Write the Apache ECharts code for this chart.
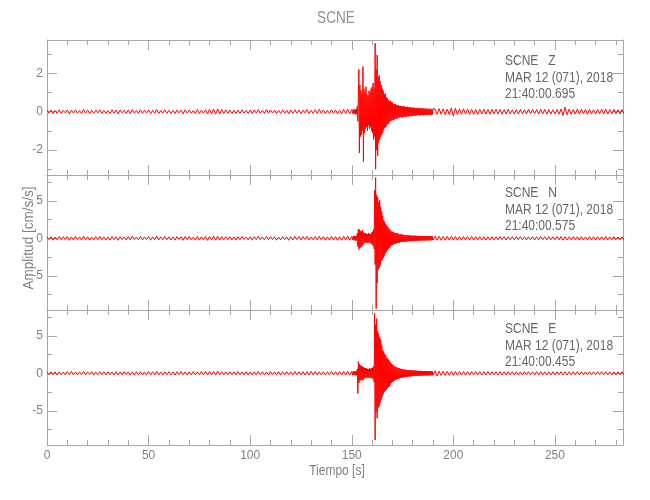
<!DOCTYPE html>
<html><head><meta charset="utf-8">
<script src="https://cdn.jsdelivr.net/npm/echarts@6/dist/echarts.min.js"></script>
<style>html,body{margin:0;padding:0;background:#fff}#c{width:650px;height:500px}</style>
</head><body><div id="c"></div>
<script>
// ---- texts ----
const stationTitle = 'SCNE';
const componentLabels = ['SCNE   Z', 'SCNE   N', 'SCNE   E'];
const dateLabel = 'MAR 12 (071), 2018';
const startTimes = ['21:40:00.695', '21:40:00.575', '21:40:00.455'];
const xAxisTitle = 'Tiempo [s]';
const yAxisTitle = 'Amplitud [cm/s/s]';

// ---- axes ----
const xMin = 0, xMax = 283.5;
const xMajorTicks = [0, 50, 100, 150, 200, 250];
const xMinorTicks = [10, 20, 30, 40, 60, 70, 80, 90, 110, 120, 130, 140, 160, 170, 180, 190, 210, 220, 230, 240, 260, 270, 280];
const yMins = [-3.3, -9.56, -9.56];
const yMaxs = [3.74, 8.44, 8.44];
const yMajorTicks = [[-2, 0, 2], [-5, 0, 5], [-5, 0, 5]];
const yMinorTicks = [[-3, -1, 1, 3], [-7.5, -2.5, 2.5, 7.5], [-7.5, -2.5, 2.5, 7.5]];

// ---- sampling of the traces (s) ----
const quietStart = 0, quietStep = 1;      // 0 .. 150
const eventStart = 150.25, eventStep = 0.25; // 150.25 .. 190
const codaStart = 191, codaStep = 1;      // 191 .. 284

// ---- Z component (cm/s/s) ----
const zQuiet = [
0.08,-0.07,0.09,-0.1,0.06,-0.08,0.1,-0.09,0.07,-0.06,
0.09,-0.11,0.08,-0.07,0.1,-0.08,0.06,-0.09,0.11,-0.07,
0.08,-0.1,0.07,-0.08,0.09,-0.06,0.1,-0.09,0.07,-0.08,
0.06,-0.09,0.1,-0.07,0.08,-0.11,0.09,-0.06,0.07,-0.1,
0.08,-0.09,0.11,-0.07,0.06,-0.08,0.1,-0.09,0.08,-0.07,
0.09,-0.1,0.07,-0.08,0.12,-0.09,0.06,-0.07,0.1,-0.08,
0.08,-0.09,0.07,-0.1,0.09,-0.06,0.08,-0.11,0.1,-0.07,
0.09,-0.08,0.06,-0.09,0.11,-0.1,0.08,-0.07,0.1,-0.12,
0.12,-0.1,0.14,-0.13,0.15,-0.12,0.11,-0.09,0.1,-0.08,
0.08,-0.09,0.07,-0.1,0.09,-0.08,0.1,-0.07,0.06,-0.09,
0.08,-0.1,0.09,-0.07,0.11,-0.08,0.07,-0.09,0.1,-0.08,
0.09,-0.07,0.08,-0.1,0.06,-0.09,0.1,-0.08,0.07,-0.11,
0.08,-0.09,0.1,-0.07,0.09,-0.1,0.08,-0.06,0.11,-0.09,
0.07,-0.08,0.1,-0.09,0.12,-0.08,0.09,-0.1,0.07,-0.09,
0.1,-0.08,0.09,-0.11,0.08,-0.1,0.12,-0.09,0.13,-0.1,0.11];
const zEvent = [
0.1,-0.09,0.11,-0.1,0.12,-0.11,0.1,-0.13,0.15,-0.14,
0.3,-0.5,0.8,2.2,-2.15,1.4,-1.3,1.1,-1.2,0.9,
-1.0,2.35,-2.6,1.2,-1.1,1.0,-0.9,1.3,-0.8,0.9,
-1.0,0.8,-0.7,1.1,-0.9,1.0,-0.8,1.2,-1.0,1.3,
-1.1,1.5,-1.45,1.2,-1.3,3.57,-3.0,2.2,-2.0,2.96,
-2.3,1.8,-1.6,1.9,-1.45,1.6,-1.3,1.4,-1.2,1.2,
-1.1,1.1,-0.95,0.9,-0.85,0.95,-0.8,0.75,-0.7,0.7,
-0.65,0.6,-0.62,0.55,-0.5,0.58,-0.5,0.5,-0.45,0.48,
-0.42,0.4,-0.44,0.38,-0.36,0.4,-0.35,0.34,-0.38,0.32,
-0.3,0.35,-0.32,0.3,-0.28,0.3,-0.27,0.29,-0.3,0.26,
-0.28,0.3,-0.25,0.27,-0.26,0.24,-0.27,0.25,-0.23,0.26,
-0.24,0.22,-0.25,0.23,-0.21,0.24,-0.22,0.2,-0.23,0.21,
-0.2,0.22,-0.19,0.2,-0.21,0.18,-0.2,0.19,-0.18,0.2,
-0.17,0.18,-0.19,0.17,-0.18,0.19,-0.16,0.18,-0.17,0.16,
-0.18,0.17,-0.15,0.16,-0.17,0.15,-0.16,0.17,-0.15,0.14,
-0.16,0.15,-0.14,0.16,-0.15,0.14,-0.15,0.13,-0.14,0.15];
const zCoda = [
0.15,-0.14,0.16,-0.13,0.15,-0.16,0.14,-0.15,0.2,-0.22,
0.18,-0.15,0.14,-0.13,0.15,-0.12,0.13,-0.14,0.12,-0.13,
0.11,-0.13,0.12,-0.11,0.13,-0.12,0.11,-0.13,0.12,-0.1,
0.13,-0.11,0.12,-0.13,0.11,-0.12,0.13,-0.11,0.1,-0.12,
0.11,-0.13,0.12,-0.11,0.1,-0.12,0.13,-0.11,0.12,-0.1,
0.11,-0.12,0.13,-0.11,0.12,-0.13,0.11,-0.12,0.1,-0.11,
0.12,-0.13,0.14,-0.2,0.24,-0.16,0.13,-0.12,0.11,-0.12,
0.13,-0.11,0.12,-0.1,0.11,-0.13,0.12,-0.11,0.1,-0.12,
0.11,-0.1,0.12,-0.11,0.13,-0.12,0.11,-0.1,0.12,-0.11,
0.1,-0.12,0.11,-0.1];

// ---- N component ----
const nQuiet = [
0.2,-0.18,0.22,-0.25,0.17,-0.2,0.24,-0.19,0.21,-0.16,
0.23,-0.26,0.18,-0.2,0.25,-0.17,0.19,-0.22,0.27,-0.18,
0.2,-0.24,0.16,-0.21,0.23,-0.19,0.25,-0.2,0.18,-0.22,
0.17,-0.23,0.26,-0.18,0.2,-0.27,0.22,-0.16,0.19,-0.24,
0.21,-0.2,0.28,-0.17,0.16,-0.21,0.24,-0.22,0.19,-0.18,
0.22,-0.25,0.18,-0.2,0.3,-0.22,0.17,-0.19,0.25,-0.2,
0.2,-0.23,0.18,-0.25,0.22,-0.16,0.21,-0.27,0.24,-0.18,
0.23,-0.2,0.16,-0.22,0.26,-0.24,0.19,-0.18,0.25,-0.28,
0.24,-0.21,0.27,-0.25,0.29,-0.23,0.22,-0.2,0.21,-0.19,
0.2,-0.22,0.18,-0.24,0.23,-0.19,0.25,-0.17,0.16,-0.22,
0.2,-0.25,0.22,-0.18,0.27,-0.2,0.17,-0.23,0.24,-0.2,
0.22,-0.18,0.2,-0.25,0.16,-0.22,0.24,-0.2,0.18,-0.27,
0.2,-0.22,0.25,-0.18,0.23,-0.24,0.2,-0.16,0.26,-0.22,
0.18,-0.2,0.24,-0.22,0.28,-0.19,0.23,-0.25,0.18,-0.22,
0.25,-0.2,0.22,-0.27,0.2,-0.24,0.29,-0.22,0.3,-0.25,0.26];
const nEvent = [
0.25,-0.22,0.28,-0.26,0.3,-0.27,0.26,-0.3,0.32,-0.3,
0.7,-1.1,1.25,-1.5,1.15,-1.3,1.0,-1.2,0.9,-1.05,
1.1,-0.9,0.8,-0.7,0.65,-0.6,0.7,-0.55,0.6,-0.65,
0.55,-0.6,0.7,-0.5,0.6,-0.65,0.55,-0.7,0.75,-0.8,
0.9,-1.0,1.2,-1.4,6.4,-3.5,8.1,-9.4,5.8,-6.0,
5.5,-4.2,4.8,-3.9,5.1,-3.6,4.2,-3.0,3.6,-2.9,
3.0,-2.6,2.4,-2.4,2.2,-2.0,1.9,-1.8,1.7,-1.6,
1.5,-1.4,1.3,-1.3,1.2,-1.1,1.0,-0.95,0.9,-0.9,
0.85,-0.8,0.8,-0.75,0.7,-0.72,0.68,-0.65,0.7,-0.6,
0.62,-0.58,0.55,-0.56,0.52,-0.5,0.55,-0.48,0.5,-0.46,
0.48,-0.45,0.44,-0.46,0.42,-0.44,0.4,-0.42,0.43,-0.4,
0.41,-0.38,0.4,-0.37,0.38,-0.36,0.37,-0.38,0.35,-0.36,
0.34,-0.35,0.36,-0.33,0.34,-0.32,0.33,-0.34,0.31,-0.32,
0.33,-0.3,0.32,-0.31,0.3,-0.32,0.29,-0.3,0.31,-0.28,
0.3,-0.29,0.28,-0.3,0.27,-0.28,0.29,-0.27,0.28,-0.26,
0.27,-0.28,0.26,-0.27,0.25,-0.26,0.27,-0.25,0.26,-0.24];
const nCoda = [
0.27,-0.25,0.26,-0.28,0.24,-0.26,0.25,-0.23,0.26,-0.24,
0.23,-0.25,0.22,-0.24,0.25,-0.22,0.23,-0.21,0.24,-0.23,
0.22,-0.2,0.23,-0.22,0.21,-0.24,0.2,-0.22,0.23,-0.21,
0.2,-0.22,0.24,-0.19,0.21,-0.23,0.2,-0.21,0.22,-0.2,
0.21,-0.19,0.23,-0.21,0.2,-0.22,0.19,-0.2,0.21,-0.23,
0.2,-0.21,0.22,-0.19,0.2,-0.22,0.21,-0.2,0.19,-0.21,
0.22,-0.2,0.23,-0.25,0.21,-0.22,0.2,-0.21,0.22,-0.19,
0.2,-0.22,0.21,-0.2,0.19,-0.21,0.22,-0.2,0.21,-0.22,
0.2,-0.19,0.21,-0.2,0.22,-0.21,0.2,-0.19,0.21,-0.2,
0.19,-0.21,0.2,-0.22];

// ---- E component ----
const eQuiet = [
0.18,-0.2,0.22,-0.17,0.2,-0.23,0.19,-0.21,0.16,-0.2,
0.22,-0.18,0.25,-0.2,0.17,-0.22,0.2,-0.19,0.23,-0.21,
0.19,-0.17,0.21,-0.24,0.18,-0.2,0.22,-0.18,0.2,-0.23,
0.21,-0.19,0.17,-0.22,0.24,-0.2,0.18,-0.21,0.23,-0.17,
0.2,-0.22,0.19,-0.25,0.21,-0.18,0.2,-0.23,0.17,-0.2,
0.23,-0.19,0.21,-0.2,0.26,-0.21,0.18,-0.22,0.2,-0.19,
0.22,-0.2,0.18,-0.23,0.21,-0.17,0.24,-0.2,0.19,-0.22,
0.2,-0.21,0.23,-0.19,0.17,-0.24,0.22,-0.2,0.25,-0.23,
0.22,-0.2,0.26,-0.24,0.27,-0.22,0.2,-0.21,0.19,-0.2,
0.21,-0.18,0.2,-0.22,0.24,-0.19,0.18,-0.21,0.22,-0.2,
0.19,-0.23,0.21,-0.2,0.25,-0.18,0.2,-0.22,0.17,-0.21,
0.23,-0.2,0.19,-0.22,0.21,-0.24,0.2,-0.18,0.22,-0.2,
0.18,-0.21,0.24,-0.2,0.22,-0.19,0.21,-0.23,0.2,-0.22,
0.25,-0.2,0.23,-0.21,0.19,-0.22,0.2,-0.24,0.22,-0.2,
0.24,-0.22,0.21,-0.25,0.23,-0.2,0.26,-0.24,0.28,-0.25,0.27];
const eEvent = [
0.22,-0.25,0.24,-0.2,0.27,-0.23,0.25,-0.28,0.3,-0.26,
0.6,-2.7,1.55,-1.3,1.2,-1.0,1.1,-0.9,1.0,-0.85,
0.9,-0.95,0.8,-0.7,0.75,-0.65,0.7,-0.6,0.65,-0.55,
0.6,-0.62,0.55,-0.6,0.68,-0.55,0.6,-0.65,0.7,-0.6,
0.75,-0.8,0.9,-1.2,8.0,-8.9,6.5,-5.2,7.3,-6.0,
5.6,-4.6,5.3,-4.4,4.8,-3.9,4.5,-3.5,3.8,-3.1,
3.1,-2.8,2.9,-2.5,2.6,-2.3,2.4,-2.2,2.1,-2.0,
1.95,-1.85,1.8,-1.75,1.6,-1.5,1.4,-1.3,1.25,-1.15,
1.1,-1.05,1.0,-0.95,0.9,-0.88,0.85,-0.8,0.78,-0.75,
0.72,-0.7,0.68,-0.66,0.64,-0.6,0.58,-0.6,0.56,-0.55,
0.53,-0.52,0.5,-0.52,0.48,-0.5,0.47,-0.46,0.45,-0.44,
0.43,-0.42,0.44,-0.41,0.4,-0.42,0.39,-0.4,0.38,-0.37,
0.39,-0.36,0.37,-0.35,0.36,-0.34,0.35,-0.33,0.34,-0.35,
0.32,-0.33,0.31,-0.32,0.33,-0.3,0.32,-0.31,0.3,-0.31,
0.29,-0.3,0.31,-0.29,0.3,-0.28,0.29,-0.3,0.28,-0.29,
0.27,-0.28,0.29,-0.27,0.28,-0.26,0.27,-0.28,0.26,-0.27];
const eCoda = [
0.34,-0.36,0.3,-0.28,0.27,-0.29,0.26,-0.28,0.25,-0.27,
0.24,-0.26,0.25,-0.23,0.24,-0.25,0.22,-0.24,0.23,-0.22,
0.24,-0.21,0.22,-0.23,0.21,-0.22,0.23,-0.2,0.22,-0.21,
0.2,-0.22,0.21,-0.23,0.2,-0.21,0.22,-0.2,0.21,-0.22,
0.2,-0.21,0.19,-0.22,0.21,-0.2,0.22,-0.19,0.2,-0.21,
0.22,-0.2,0.21,-0.23,0.2,-0.21,0.19,-0.22,0.2,-0.21,
0.21,-0.19,0.22,-0.2,0.21,-0.22,0.2,-0.19,0.21,-0.2,
0.22,-0.21,0.2,-0.22,0.19,-0.2,0.21,-0.22,0.2,-0.19,
0.21,-0.2,0.22,-0.21,0.19,-0.2,0.21,-0.22,0.2,-0.21,
0.2,-0.19,0.21,-0.2];

// ---- build ----
function segment(start, step, vals) {
  return vals.map((v, i) => [Math.round((start + i * step) * 100) / 100, v]);
}
function trace(q, e, c) {
  return segment(quietStart, quietStep, q)
    .concat(segment(eventStart, eventStep, e))
    .concat(segment(codaStart, codaStep, c));
}
const traces = [trace(zQuiet, zEvent, zCoda), trace(nQuiet, nEvent, nCoda), trace(eQuiet, eEvent, eCoda)];

const FONT = '"Liberation Sans", Arial, sans-serif';
const axisColor = '#a6a6a6';
const labelColor = '#808080';
const gridTops = [40, 175, 310];
const annotOffsets = [13, 10, 11];
const gridH = 135, gridL = 47, gridR = 27;

const grids = [], xAxes = [], yAxes = [], series = [], graphics = [];
for (let g = 0; g < 3; g++) {
  grids.push({left: gridL, right: gridR, top: gridTops[g], height: gridH, containLabel: false});
  const lineSt = {color: axisColor, width: 1};
  const xBase = {gridIndex: g, type: 'value', min: xMin, max: xMax, splitLine: {show: false}};
  xAxes.push(Object.assign({}, xBase, {
    position: 'bottom', axisLine: {show: true, onZero: false, lineStyle: lineSt},
    axisTick: {show: true, inside: true, length: 10, customValues: xMajorTicks, lineStyle: lineSt},
    axisLabel: {show: g === 2, customValues: xMajorTicks, color: labelColor, fontFamily: FONT, fontSize: 12, margin: 5}
  }));
  xAxes.push(Object.assign({}, xBase, {
    position: 'bottom', axisLine: {show: false, onZero: false},
    axisTick: {show: true, inside: true, length: 5, customValues: xMinorTicks, lineStyle: lineSt},
    axisLabel: {show: false}
  }));
  xAxes.push(Object.assign({}, xBase, {
    position: 'top', axisLine: {show: true, onZero: false, lineStyle: lineSt},
    axisTick: {show: true, inside: true, length: 10, customValues: xMajorTicks, lineStyle: lineSt},
    axisLabel: {show: false}
  }));
  xAxes.push(Object.assign({}, xBase, {
    position: 'top', axisLine: {show: false, onZero: false},
    axisTick: {show: true, inside: true, length: 5, customValues: xMinorTicks, lineStyle: lineSt},
    axisLabel: {show: false}
  }));
  const yBase = {gridIndex: g, type: 'value', min: yMins[g], max: yMaxs[g], splitLine: {show: false}};
  yAxes.push(Object.assign({}, yBase, {
    position: 'left', axisLine: {show: true, onZero: false, lineStyle: lineSt},
    axisTick: {show: true, inside: true, length: 10, customValues: yMajorTicks[g], lineStyle: lineSt},
    axisLabel: {show: true, customValues: yMajorTicks[g], color: labelColor, fontFamily: FONT, fontSize: 12, margin: 4}
  }));
  yAxes.push(Object.assign({}, yBase, {
    position: 'left', axisLine: {show: false, onZero: false},
    axisTick: {show: true, inside: true, length: 5, customValues: yMinorTicks[g], lineStyle: lineSt},
    axisLabel: {show: false}
  }));
  yAxes.push(Object.assign({}, yBase, {
    position: 'right', axisLine: {show: true, onZero: false, lineStyle: lineSt},
    axisTick: {show: true, inside: true, length: 10, customValues: yMajorTicks[g], lineStyle: lineSt},
    axisLabel: {show: false}
  }));
  yAxes.push(Object.assign({}, yBase, {
    position: 'right', axisLine: {show: false, onZero: false},
    axisTick: {show: true, inside: true, length: 5, customValues: yMinorTicks[g], lineStyle: lineSt},
    axisLabel: {show: false}
  }));
  series.push({
    type: 'line', xAxisIndex: g * 4, yAxisIndex: g * 4, data: traces[g],
    showSymbol: false, symbol: 'none', sampling: null, clip: true,
    lineStyle: {color: '#ff0000', width: 1}, itemStyle: {color: '#ff0000'}
  });
  graphics.push({
    type: 'text', x: 505, y: gridTops[g] + annotOffsets[g], scaleX: 0.8,
    style: {text: [componentLabels[g], dateLabel, startTimes[g]].join('\n'),
      font: '15px ' + FONT, fill: '#666666', lineHeight: 16.5, verticalAlign: 'top'}
  });
}
graphics.push({
  type: 'text', x: 336, y: 18, scaleX: 0.8,
  style: {text: stationTitle, font: '17px ' + FONT, fill: '#909090', align: 'center', verticalAlign: 'middle'}
});
graphics.push({
  type: 'text', x: 337, y: 471, scaleX: 0.8,
  style: {text: xAxisTitle, font: '15px ' + FONT, fill: labelColor, align: 'center', verticalAlign: 'middle'}
});
graphics.push({
  type: 'text', x: 29, y: 238, rotation: Math.PI / 2, scaleX: 0.9,
  style: {text: yAxisTitle, font: '15px ' + FONT, fill: labelColor, align: 'center', verticalAlign: 'middle'}
});

const chart = echarts.init(document.getElementById('c'), null, {renderer: 'canvas'});
chart.setOption({
  animation: false,
  backgroundColor: '#ffffff',
  grid: grids, xAxis: xAxes, yAxis: yAxes, series: series, graphic: graphics
});
</script>
</body></html>
